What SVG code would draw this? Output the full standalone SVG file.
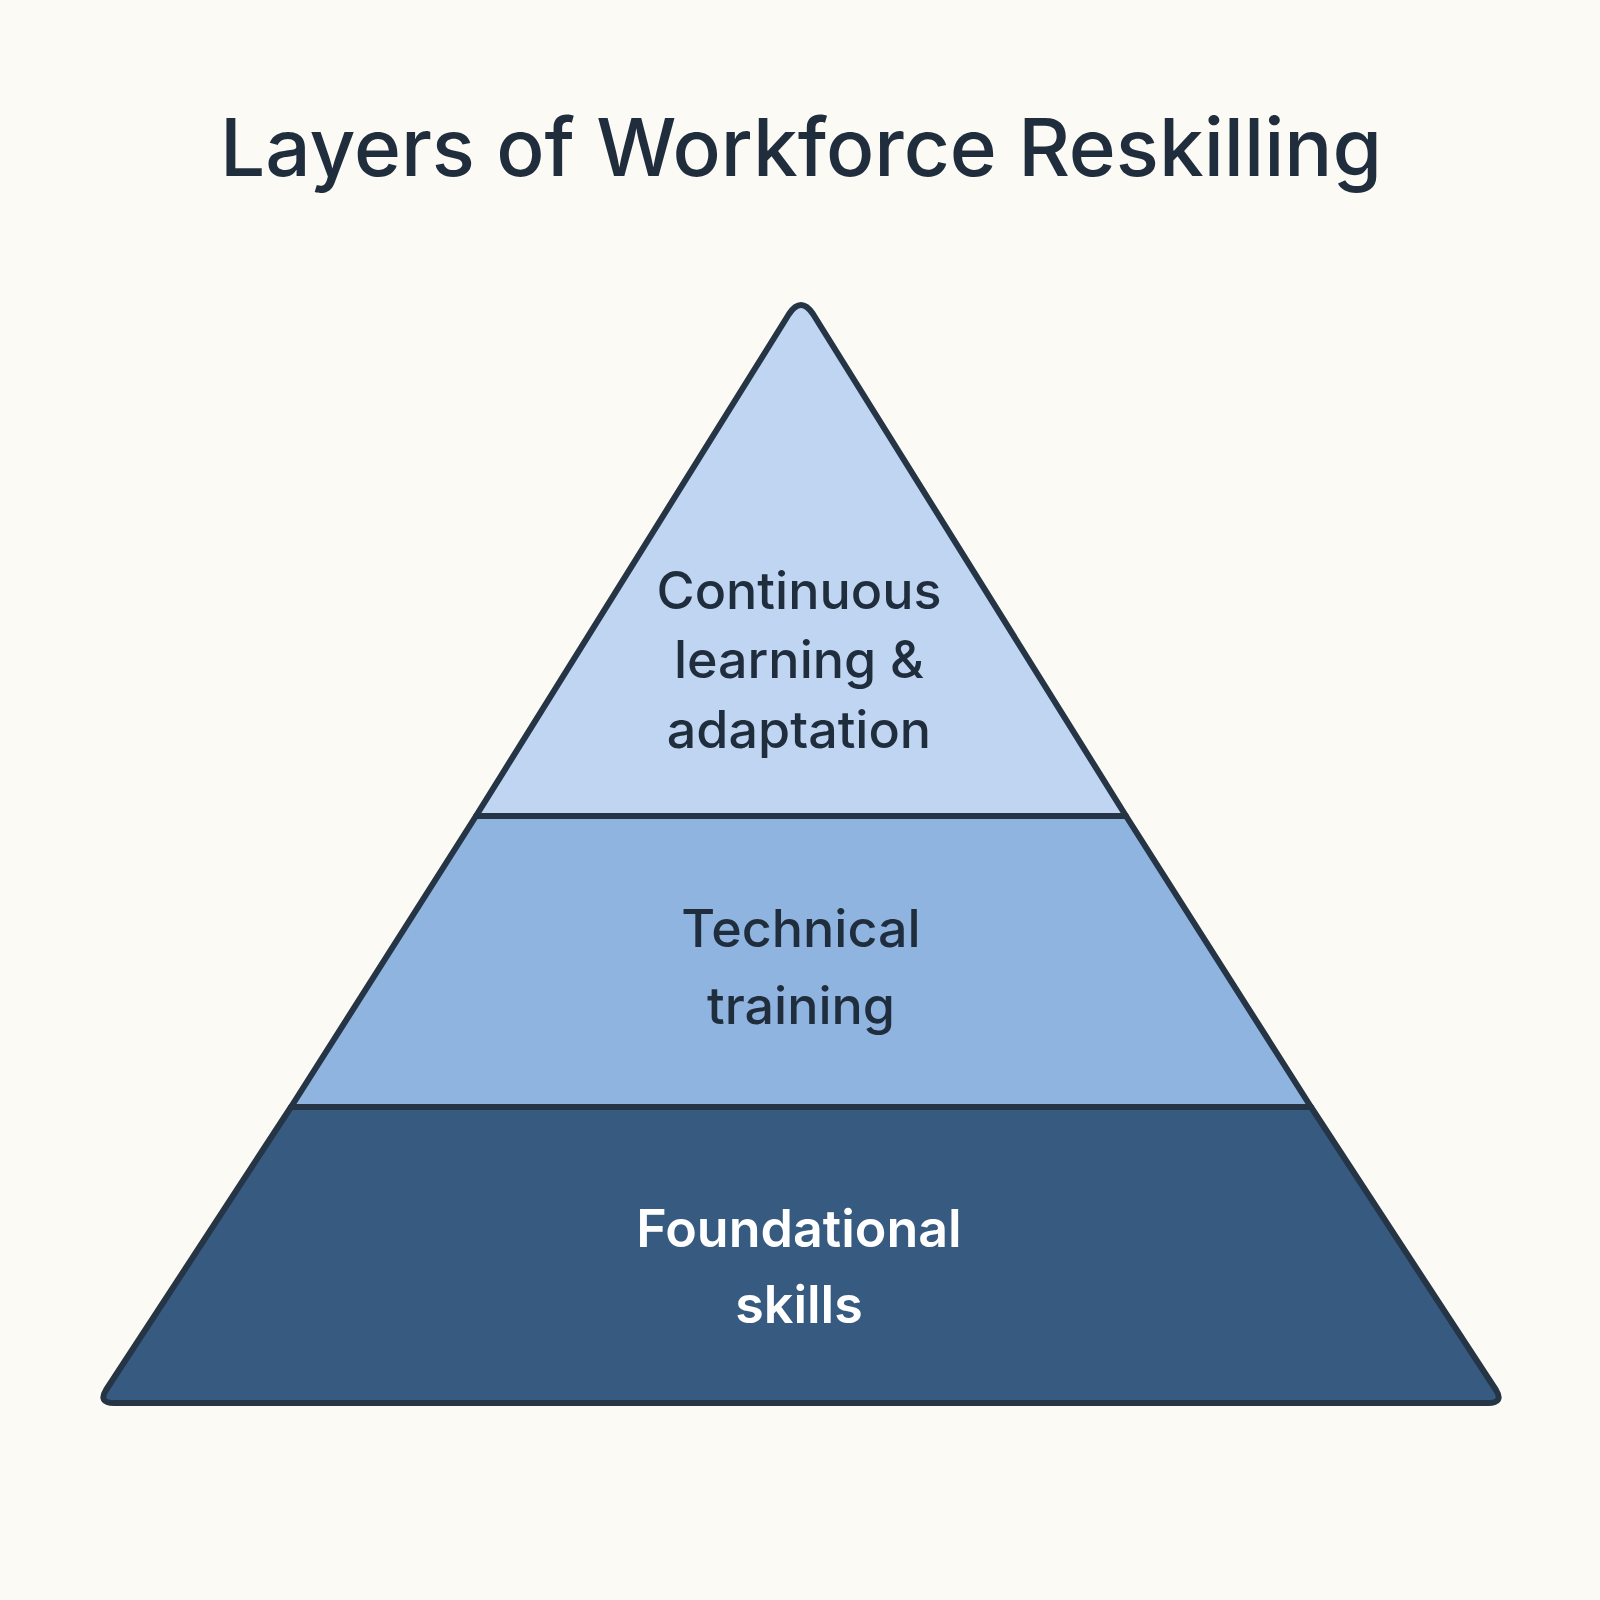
<svg xmlns="http://www.w3.org/2000/svg" width="1600" height="1600" viewBox="0 0 1600 1600">
<style>
.t{font-family:"Inter","Liberation Sans",sans-serif;font-weight:500;font-size:52px;fill:#1f2d3d;text-anchor:middle}
.w{fill:#ffffff;font-weight:600}
.layer{stroke:#253545;stroke-width:6;stroke-linejoin:round}
</style>
<rect width="1600" height="1600" fill="#fcfaf4"/>
<text x="801" y="176" class="t" style="font-size:80px">Layers of Workforce Reskilling</text>
<g id="top">
<path class="layer" fill="#bfd5f2" d="M789,314 Q801,296 813,314 L1126,816 L476,816 Z"/>
<text class="t" x="799" y="609">Continuous</text>
<text class="t" x="799" y="678">learning &amp;</text>
<text class="t" x="799" y="748">adaptation</text>
</g>
<g id="middle">
<path class="layer" fill="#8fb4e0" d="M476,816 L1126,816 L1311,1107 L291,1107 Z"/>
<text class="t" x="801" y="947">Technical</text>
<text class="t" x="801" y="1024">training</text>
</g>
<g id="bottom">
<path class="layer" fill="#365a80" d="M291,1107 L1311,1107 L1496,1390 Q1504,1403 1488,1403 L114,1403 Q98,1403 106,1390 Z"/>
<text class="t w" x="799" y="1247">Foundational</text>
<text class="t w" x="799" y="1323">skills</text>
</g>
<g id="connectors"/>
</svg>
